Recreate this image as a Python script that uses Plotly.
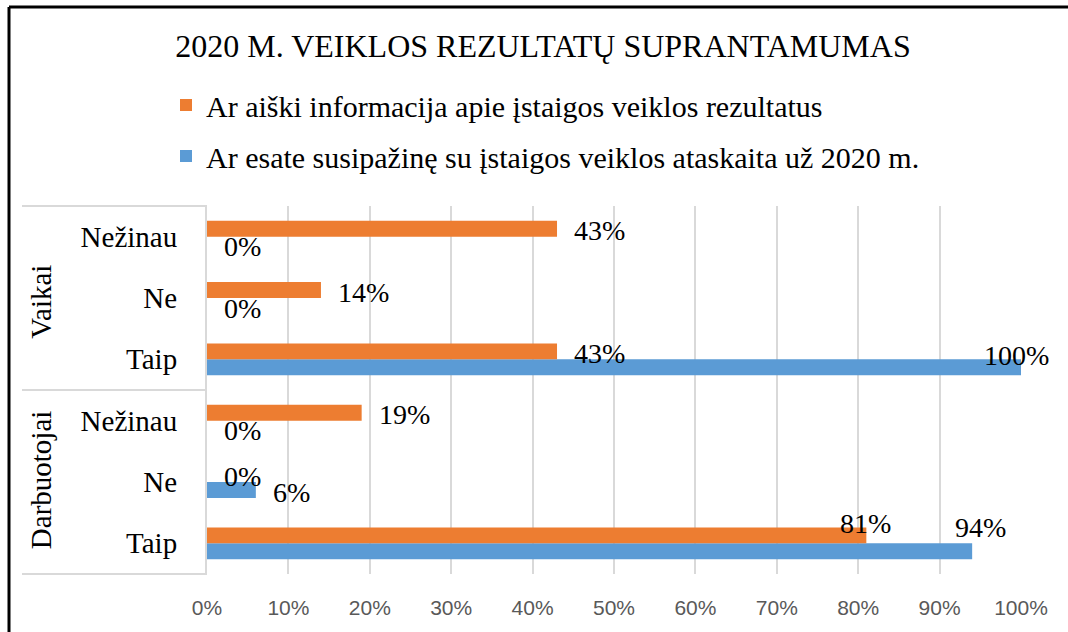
import plotly.graph_objects as go

# ---- data ----
groups = ["Darbuotojai", "Darbuotojai", "Darbuotojai", "Vaikai", "Vaikai", "Vaikai"]
answers = ["Taip", "Ne", "Nežinau", "Taip", "Ne", "Nežinau"]
series_orange_name = "Ar aiški informacija apie įstaigos veiklos rezultatus"
series_blue_name = "Ar esate susipažinę su įstaigos veiklos ataskaita už 2020 m."
orange_values = [81, 0, 19, 43, 14, 43]
blue_values = [94, 6, 0, 100, 0, 0]
x_tick_values = [0, 10, 20, 30, 40, 50, 60, 70, 80, 90, 100]
title_text = "2020 M. VEIKLOS REZULTATŲ SUPRANTAMUMAS"

# ---- layout constants ----
W, H = 1068, 632
ML, MR, MT, MB = 207, 47, 206, 58
PW, PH = W - ML - MR, H - MT - MB
ORANGE = "#ED7D31"
BLUE = "#5B9BD5"
SERIF = "Liberation Serif"
SANS = "Liberation Sans Narrow, Liberation Sans, sans-serif"


def px_x(p):
    return (p - ML) / PW


def px_y(p):
    return (H - MB - p) / PH


cat_ids = [f"{g} | {a}" for g, a in zip(groups, answers)]

fig = go.Figure()
fig.add_trace(go.Bar(
    y=cat_ids, x=blue_values, orientation="h", name=series_blue_name,
    marker=dict(color=BLUE, line=dict(width=0)), legendgroup="b",
    legendrank=2, hoverinfo="x+name",
))
fig.add_trace(go.Bar(
    y=cat_ids, x=orange_values, orientation="h", name=series_orange_name,
    marker=dict(color=ORANGE, line=dict(width=0)), legendgroup="o",
    legendrank=1, hoverinfo="x+name",
))

# data labels (pixel nudges are placement style, not data)
base_shift = {"o": (15, 6), "b": (15, -10)}
nudges = {
    ("b", 3): (-39, 4),
    ("o", 0): (-28, 20),
    ("b", 0): (-19, 16),
}
annotations = []
for key, vals in (("o", orange_values), ("b", blue_values)):
    for i, v in enumerate(vals):
        xs, ys = nudges.get((key, i), base_shift[key])
        annotations.append(dict(
            x=v, y=cat_ids[i], xref="x", yref="y", text=f"{v}%",
            showarrow=False, xanchor="left", yanchor="middle",
            xshift=xs, yshift=ys,
            font=dict(family=SERIF, size=28, color="#000000"),
        ))

# group labels (rotated)
group_names = ["Vaikai", "Darbuotojai"]
group_centers = [0.74, 0.255]
for name, yc in zip(group_names, group_centers):
    annotations.append(dict(
        x=px_x(41), y=yc, xref="paper", yref="paper", text=name,
        showarrow=False, textangle=-90, xanchor="center", yanchor="middle",
        font=dict(family=SERIF, size=29, color="#000000"),
    ))

shapes = []
# multi-level category box lines
for yy in (1.0, 0.5, 0.0):
    shapes.append(dict(type="line", xref="paper", yref="paper",
                       x0=px_x(22), x1=0, y0=yy, y1=yy,
                       line=dict(color="#D9D9D9", width=2)))
# outer black frame (top and left)
shapes.append(dict(type="line", xref="paper", yref="paper",
                   x0=px_x(9), x1=px_x(1080), y0=px_y(7), y1=px_y(7),
                   line=dict(color="#000000", width=3)))
shapes.append(dict(type="line", xref="paper", yref="paper",
                   x0=px_x(9), x1=px_x(9), y0=px_y(7), y1=px_y(650),
                   line=dict(color="#000000", width=3)))

fig.update_layout(
    width=W, height=H,
    margin=dict(l=ML, r=MR, t=MT, b=MB, autoexpand=False),
    paper_bgcolor="white", plot_bgcolor="white",
    barmode="group", bargap=0.48, bargroupgap=0,
    title=dict(text=title_text, x=543 / W, xref="container", xanchor="center",
               y=1 - 46 / H, yref="container", yanchor="middle",
               font=dict(family=SERIF, size=32, color="#000000")),
    legend=dict(
        traceorder="grouped", tracegroupgap=9,
        x=166 / W, xref="container", xanchor="left",
        y=1 - 79 / H, yref="container", yanchor="top",
        font=dict(family=SERIF, size=30, color="#000000"),
        bgcolor="rgba(0,0,0,0)",
    ),
    xaxis=dict(
        range=[0, 100], tickvals=x_tick_values,
        ticktext=[f"{t}%" for t in x_tick_values],
        showgrid=True, gridcolor="#D9D9D9", gridwidth=2,
        zeroline=False, showline=False, ticks="",
        tickfont=dict(family=SANS, size=21, color="#595959"),
        ticklabelstandoff=19,
    ),
    yaxis=dict(
        type="category", categoryorder="array", categoryarray=cat_ids,
        tickvals=cat_ids, ticktext=answers,
        showgrid=False, zeroline=False, showline=True,
        linecolor="#D9D9D9", linewidth=2, ticks="",
        tickfont=dict(family=SERIF, size=29, color="#000000"),
        ticklabelstandoff=22,
    ),
    annotations=annotations,
    shapes=shapes,
)

fig.write_html("out.html", config={"displayModeBar": False},
               post_script="document.body.style.margin='0';")
